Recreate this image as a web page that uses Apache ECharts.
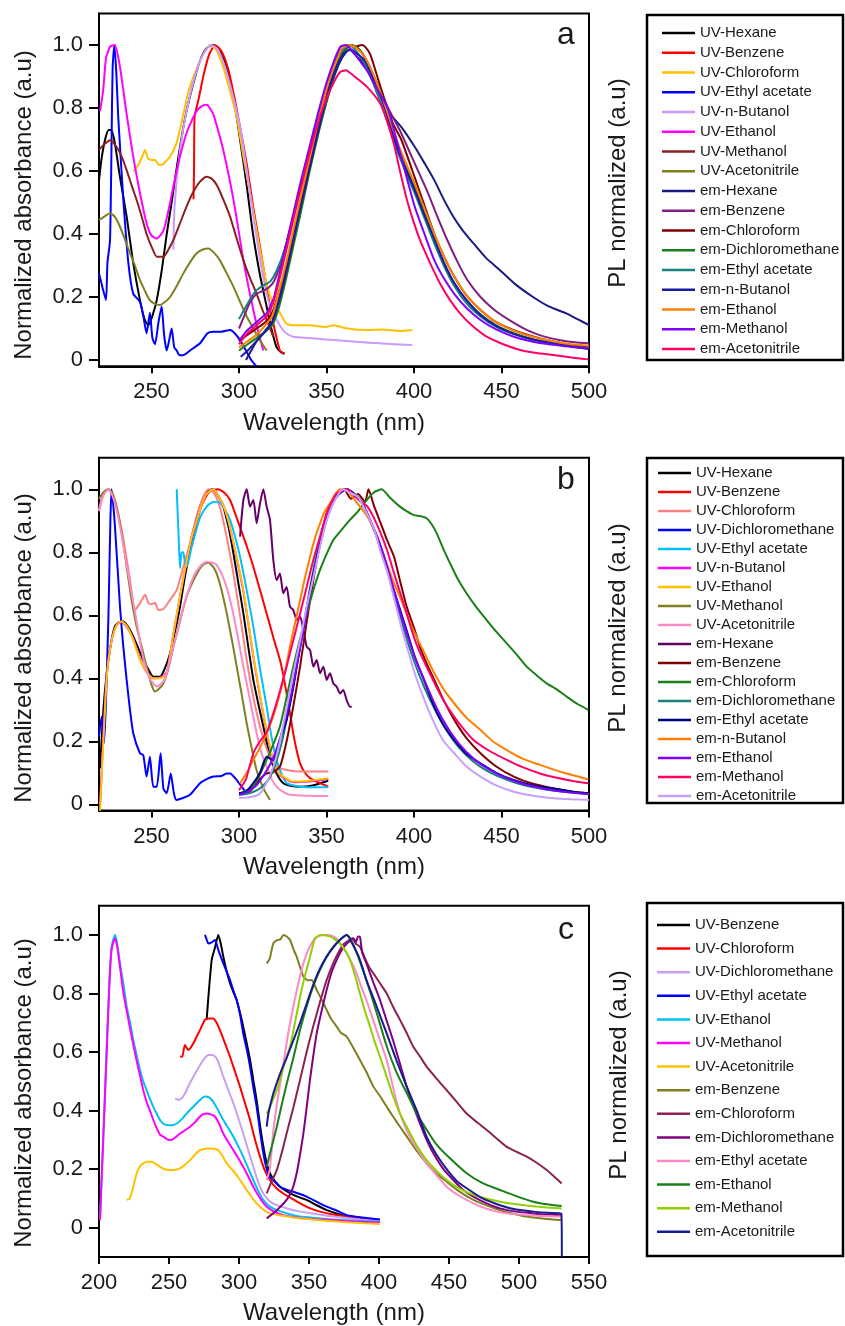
<!DOCTYPE html>
<html>
<head>
<meta charset="utf-8">
<script src="https://cdn.jsdelivr.net/npm/echarts@6/dist/echarts.min.js"></script>
<style>
  html, body { margin: 0; padding: 0; background: #fff; overflow: hidden; }
  .panel { position: absolute; left: 0; width: 845px; }
</style>
</head>
<body>
<div id="pa" class="panel" style="top:0;height:440px"></div>
<div id="pb" class="panel" style="top:440px;height:440px"></div>
<div id="pc" class="panel" style="top:880px;height:446px"></div>
<script>
// ---------- tick values ----------
const xTicksAB = [250, 300, 350, 400, 450, 500];
const xTicksC = [200, 250, 300, 350, 400, 450, 500, 550];
const yTicks = [0, 0.2, 0.4, 0.6, 0.8, 1.0];

// ---------- panel a : wavelength (nm), normalized intensity ----------
const namesA = ['UV-Hexane','UV-Benzene','UV-Chloroform','UV-Ethyl acetate','UV-n-Butanol','UV-Ethanol','UV-Methanol','UV-Acetonitrile',
  'em-Hexane','em-Benzene','em-Chloroform','em-Dichloromethane','em-Ethyl acetate','em-n-Butanol','em-Ethanol','em-Methanol','em-Acetonitrile'];

const a_uvHexane = [[220,0.57],[221.5,0.64],[223.5,0.7],[225.5,0.73],[227,0.73],[229,0.69],[232,0.58],[235.8,0.455],[239.5,0.31],[243.4,0.19],[246,0.13],[248.2,0.11],[250.5,0.14],[253,0.19],[256,0.29],[258.7,0.4],[261.5,0.5],[264.4,0.61],[267,0.7],[270,0.79],[274,0.88],[277.7,0.95],[281.5,0.99],[285.3,1.0],[289,0.98],[293,0.93],[297,0.83],[300.6,0.70],[304.5,0.55],[308,0.40],[312,0.27],[315.8,0.17],[318.5,0.1],[321.5,0.04],[324,0.025],[326,0.02]];
const a_uvBenzene = [[274,0.51],[274.3,0.6],[274.6,0.77],[277,0.83],[280,0.91],[283,0.97],[286.3,1.0],[290,0.98],[294,0.92],[297.5,0.83],[300.6,0.74],[304.5,0.62],[308,0.49],[312,0.36],[315.8,0.23],[319.5,0.12],[323.4,0.03],[326,0.02]];
const a_uvChloroform = [[239.6,0.598],[243,0.624],[245,0.65],[246.3,0.667],[248,0.64],[250,0.635],[252,0.635],[254,0.62],[256,0.62],[258,0.63],[260.6,0.645],[264.4,0.69],[268.2,0.78],[271,0.85],[274,0.9],[277,0.94],[279.6,0.97],[283.4,1.0],[287,0.985],[291,0.93],[295,0.85],[298.7,0.77],[303,0.63],[308.2,0.47],[312,0.35],[315.8,0.24],[319.5,0.18],[323.4,0.15],[327,0.116],[331,0.11],[340,0.11],[350,0.105],[354,0.11],[362,0.1],[373,0.095],[382,0.097],[392,0.092],[399,0.095]];
const a_uvEthylAcetate = [[220,0.275],[222,0.23],[224,0.19],[224.8,0.307],[226.3,0.38],[227.2,0.7],[227.8,0.93],[228.8,1.0],[230,0.9],[231,0.77],[233.9,0.51],[236.8,0.307],[239.6,0.21],[243.4,0.185],[245.3,0.14],[247.2,0.085],[249.1,0.15],[250.5,0.07],[252,0.05],[254,0.12],[255.8,0.17],[257.2,0.08],[258.7,0.03],[260,0.06],[261.5,0.1],[263,0.04],[264.4,0.03],[266,0.015],[268,0.015],[272,0.03],[277.7,0.053],[282,0.085],[285.3,0.09],[290,0.09],[294.9,0.095],[297.5,0.085],[300.6,0.063],[304,0.03],[307,0.0],[310,-0.02]];
const a_uvButanol = [[262.5,0.35],[263.2,0.49],[266.3,0.667],[270,0.79],[275.8,0.92],[280,0.975],[284,1.0],[288,0.985],[292,0.93],[296,0.85],[300.6,0.74],[304.5,0.6],[308.2,0.455],[312,0.32],[315.8,0.21],[319,0.15],[321.5,0.127],[324.5,0.1],[327,0.085],[331,0.074],[340,0.07],[350,0.065],[362,0.06],[375,0.055],[388,0.05],[399,0.048]];
const a_uvEthanol = [[220.6,0.79],[222.4,0.857],[224,0.958],[226.3,0.995],[229,1.0],[232,0.93],[235.8,0.78],[239.6,0.645],[243.4,0.53],[247.2,0.434],[250,0.395],[253,0.386],[256.8,0.41],[259.5,0.47],[262.5,0.55],[266,0.64],[270,0.72],[273,0.76],[275.8,0.79],[278.5,0.805],[281.5,0.81],[285.3,0.78],[288,0.73],[291,0.667],[294,0.59],[296.8,0.51],[299.5,0.42],[302.5,0.317],[305.5,0.23],[308.2,0.159],[311,0.09],[313.9,0.03]];
const a_uvMethanol = [[220,0.667],[223,0.685],[226.3,0.698],[230,0.677],[233,0.645],[235.8,0.603],[238.6,0.555],[241.5,0.508],[244.4,0.455],[247.2,0.40],[250,0.36],[253,0.328],[256.8,0.328],[259.6,0.35],[262.5,0.381],[266,0.43],[270,0.487],[274,0.535],[277.7,0.566],[281.5,0.582],[284.5,0.575],[287.2,0.556],[291,0.51],[294.9,0.455],[298.7,0.385],[302.5,0.317],[306.3,0.26],[310.1,0.21],[313,0.165],[315.8,0.127],[319.6,0.074]];
const a_uvAcetonitrile = [[220,0.444],[223,0.455],[226.3,0.466],[229,0.455],[232,0.423],[235,0.38],[237.7,0.339],[240.5,0.3],[243.4,0.254],[246.2,0.22],[249,0.19],[252,0.178],[254.9,0.175],[257.8,0.185],[260.6,0.2],[264.4,0.235],[268.2,0.275],[272,0.31],[275.8,0.339],[279,0.35],[282.5,0.354],[285.8,0.34],[289,0.317],[293,0.275],[296.8,0.233],[300.6,0.185],[304.4,0.138],[308.2,0.1],[312,0.063],[315.8,0.03]];
const a_emHexane = [[304,0.0],[307,0.03],[310,0.06],[313,0.08],[316,0.1],[319,0.12],[322,0.18],[326,0.27],[330,0.36],[335,0.48],[340,0.6],[345,0.72],[350,0.82],[355,0.91],[359,0.96],[363,0.986],[368,0.96],[373,0.93],[379,0.86],[385,0.79],[392.7,0.74],[400.4,0.677],[406,0.625],[411.6,0.571],[417,0.51],[422.5,0.455],[428,0.41],[434,0.37],[441,0.325],[449,0.286],[458,0.24],[468,0.2],[477,0.17],[487,0.148],[494,0.128],[500,0.111]];
const a_emBenzene = [[300,0.1],[303,0.14],[306,0.18],[310,0.21],[314,0.22],[317,0.23],[320,0.25],[324,0.31],[328,0.39],[332,0.48],[336,0.57],[340,0.66],[345,0.77],[350,0.87],[355,0.95],[359,0.99],[363,1.0],[368,0.99],[373,0.95],[378,0.89],[383,0.825],[388,0.77],[392.7,0.72],[400.4,0.624],[408,0.53],[413,0.46],[419,0.381],[425,0.31],[430.5,0.254],[438,0.2],[446,0.159],[455,0.125],[464.6,0.095],[474,0.075],[483.6,0.063],[492,0.056],[500,0.053]];
const a_emChloroform = [[300,0.06],[305,0.08],[310,0.1],[315,0.12],[319,0.15],[323,0.22],[327,0.3],[331,0.4],[335,0.5],[340,0.62],[345,0.74],[350,0.85],[355,0.93],[360,0.98],[364,1.0],[367,0.995],[370,1.0],[372,0.995],[375,0.97],[379,0.9],[383,0.83],[388,0.75],[392.7,0.70],[400.4,0.58],[406,0.49],[411.6,0.40],[417,0.33],[423,0.265],[430,0.205],[438,0.159],[447,0.12],[457,0.095],[468,0.075],[480,0.058],[490,0.048],[500,0.042]];
const a_emDichloromethane = [[300,0.03],[305,0.05],[310,0.07],[315,0.09],[319,0.11],[323,0.17],[327,0.26],[331,0.36],[335,0.46],[340,0.59],[345,0.71],[350,0.82],[355,0.92],[360,0.98],[364,1.0],[368,0.99],[372,0.96],[378,0.88],[384,0.79],[390,0.69],[395,0.62],[400.4,0.55],[406,0.47],[411.6,0.38],[417,0.31],[423,0.243],[430,0.19],[438,0.145],[447,0.11],[457,0.085],[468,0.066],[480,0.053],[490,0.044],[500,0.037]];
const a_emEthylAcetate = [[300,0.13],[303,0.16],[306,0.19],[309,0.215],[312,0.23],[315,0.24],[318,0.25],[322,0.29],[326,0.35],[330,0.43],[335,0.54],[340,0.65],[345,0.76],[350,0.86],[355,0.94],[360,0.99],[363,1.0],[367,0.98],[372,0.94],[378,0.86],[384,0.77],[390,0.67],[395,0.6],[400.4,0.53],[406,0.45],[411.6,0.37],[417,0.3],[423,0.235],[430,0.18],[438,0.138],[447,0.105],[457,0.082],[468,0.064],[480,0.052],[490,0.043],[500,0.036]];
const a_emButanol = [[301,0.01],[305,0.03],[310,0.06],[315,0.09],[319,0.12],[323,0.19],[327,0.28],[331,0.38],[335,0.48],[340,0.6],[345,0.72],[350,0.83],[355,0.92],[360,0.975],[364,0.985],[368,0.97],[372,0.95],[378,0.88],[384,0.79],[390,0.68],[395,0.61],[400.4,0.54],[406,0.46],[411.6,0.385],[417,0.31],[423,0.245],[430,0.19],[438,0.143],[447,0.108],[457,0.083],[468,0.065],[480,0.052],[490,0.043],[500,0.035]];
const a_emEthanol = [[300,0.04],[305,0.06],[310,0.08],[315,0.11],[319,0.14],[323,0.22],[327,0.31],[331,0.41],[335,0.51],[340,0.63],[345,0.75],[350,0.86],[355,0.94],[359,0.99],[363,1.0],[367,0.99],[372,0.96],[378,0.89],[384,0.8],[390,0.7],[395,0.63],[400.4,0.56],[406,0.48],[411.6,0.4],[417,0.33],[423,0.265],[430,0.205],[438,0.158],[447,0.12],[457,0.093],[468,0.073],[480,0.059],[490,0.05],[500,0.045]];
const a_emMethanol = [[300,0.06],[304,0.09],[308,0.11],[312,0.13],[316,0.15],[320,0.2],[325,0.32],[330,0.44],[335,0.56],[340,0.67],[345,0.78],[350,0.88],[355,0.96],[358,0.995],[361,1.0],[365,0.98],[369,0.95],[373,0.92],[379,0.86],[385,0.8],[389,0.72],[392.7,0.645],[396.5,0.565],[400.4,0.487],[406,0.4],[411.6,0.317],[417,0.26],[423,0.21],[430,0.165],[438,0.127],[447,0.097],[457,0.074],[468,0.058],[480,0.048],[490,0.041],[500,0.037]];
const a_emAcetonitrile = [[300,0.05],[304,0.08],[308,0.1],[312,0.12],[316,0.14],[320,0.19],[325,0.3],[330,0.42],[335,0.54],[340,0.65],[345,0.75],[350,0.83],[355,0.89],[358,0.915],[361,0.92],[366,0.9],[373,0.868],[380.6,0.815],[384.5,0.76],[388.4,0.688],[392,0.6],[396,0.508],[399.7,0.44],[403.4,0.381],[409,0.31],[414.9,0.243],[420.6,0.19],[426.3,0.148],[433,0.11],[441.5,0.074],[451,0.05],[460.6,0.032],[470,0.022],[479.6,0.016],[490,0.008],[499.6,0.002]];

const curvesA = [a_uvHexane, a_uvBenzene, a_uvChloroform, a_uvEthylAcetate, a_uvButanol, a_uvEthanol, a_uvMethanol, a_uvAcetonitrile,
  a_emHexane, a_emBenzene, a_emChloroform, a_emDichloromethane, a_emEthylAcetate, a_emButanol, a_emEthanol, a_emMethanol, a_emAcetonitrile];
const colorsA = ['#000000','#ff0000','#ffc000','#0000ff','#cc99ff','#ff00ff','#8b2020','#808020',
  '#1a1a80','#7f1f7f','#800000','#1a801a','#1a7f7f','#1a1aa6','#ff8000','#8000ff','#ff0066'];

// ---------- panel b ----------
const namesB = ['UV-Hexane','UV-Benzene','UV-Chloroform','UV-Dichloromethane','UV-Ethyl acetate','UV-n-Butanol','UV-Ethanol','UV-Methanol','UV-Acetonitrile',
  'em-Hexane','em-Benzene','em-Chloroform','em-Dichloromethane','em-Ethyl acetate','em-n-Butanol','em-Ethanol','em-Methanol','em-Acetonitrile'];

const b_uvHexane = [[220.6,0.114],[222.5,0.3],[224.4,0.416],[226.5,0.5],[229,0.564],[231.5,0.578],[234,0.58],[237,0.56],[239.6,0.532],[242.5,0.495],[245.3,0.458],[248,0.43],[251,0.405],[254.9,0.405],[257.5,0.43],[260.6,0.479],[263.5,0.55],[266.3,0.627],[269,0.72],[272,0.807],[275,0.89],[277.7,0.945],[280.5,0.98],[283.4,0.998],[285.3,1.0],[288,0.98],[291,0.945],[294,0.88],[296.8,0.797],[299.7,0.7],[302.5,0.606],[305.3,0.5],[308.2,0.395],[311,0.32],[313.9,0.247],[317.7,0.151],[321.5,0.098],[325.3,0.067],[330,0.058],[334.9,0.056],[342,0.06],[351,0.075]];
const b_uvBenzene = [[273,0.818],[275.5,0.88],[277.7,0.934],[280.5,0.97],[283.4,0.993],[288,1.0],[291.5,0.99],[294.9,0.966],[298,0.92],[300.6,0.88],[304.4,0.82],[308.2,0.754],[312,0.68],[315.8,0.606],[319.6,0.53],[323.4,0.458],[325.3,0.41],[327.2,0.352],[329.1,0.29],[331,0.225],[333,0.17],[334.9,0.13],[337.7,0.1],[340.6,0.083],[346.3,0.067],[351,0.056]];
const b_uvChloroform = [[220,0.934],[222.4,0.987],[225.3,1.0],[229,0.966],[231.5,0.91],[234,0.839],[237.7,0.712],[240.6,0.617],[243.4,0.638],[246.3,0.665],[248.2,0.64],[250,0.635],[252,0.64],[253.9,0.617],[256.8,0.62],[260.6,0.649],[264.4,0.68],[268.2,0.754],[272,0.829],[275.8,0.913],[279.6,0.977],[282.5,1.0],[285.5,0.99],[289,0.945],[292.9,0.85],[296.8,0.733],[300.6,0.6],[304.4,0.458],[308.2,0.34],[312,0.247],[315,0.19],[317.7,0.151],[321.5,0.12],[327.2,0.109],[334.9,0.104],[343,0.104],[351,0.104]];
const b_uvDichloromethane = [[220,0.215],[221.5,0.278],[222.9,0.194],[224,0.331],[225.4,0.6],[226.5,0.9],[227.2,1.0],[229,0.892],[232,0.627],[233.9,0.5],[235.8,0.395],[237.7,0.3],[239.6,0.225],[243.4,0.162],[245.3,0.156],[247.2,0.088],[249.1,0.151],[251,0.056],[253,0.056],[255.2,0.162],[256.8,0.05],[258.7,0.035],[261,0.098],[262.8,0.035],[264.2,0.014],[268,0.02],[272,0.03],[277.7,0.067],[281.5,0.08],[285.3,0.088],[290,0.09],[292.9,0.098],[294.9,0.098],[298.7,0.077],[301.5,0.056],[304.4,0.035]];
const b_uvEthylAcetate = [[264.4,1.0],[265.5,0.85],[266.3,0.75],[267.2,0.8],[268.2,0.8],[269,0.77],[270,0.754],[271.5,0.78],[273,0.82],[275,0.86],[277.7,0.91],[281.5,0.945],[285.3,0.96],[289.1,0.958],[292,0.935],[294.9,0.903],[297.7,0.85],[300.6,0.786],[304.4,0.68],[308.2,0.564],[312,0.43],[315.8,0.31],[318.7,0.21],[321.5,0.141],[324.4,0.095],[327.2,0.067],[334.9,0.056],[343,0.054],[351,0.054]];
const b_uvButanol = [[220.6,0.0],[222.5,0.22],[224.4,0.41],[226.5,0.5],[229,0.556],[231,0.575],[233,0.578],[236,0.562],[239.6,0.525],[243.4,0.462],[247.2,0.42],[251,0.4],[254.9,0.402],[258.7,0.42],[262.5,0.54],[266.3,0.66],[270,0.77],[273,0.85],[275.8,0.905],[278.6,0.95],[281.5,0.985],[285.3,1.0],[288,0.98],[291,0.95],[293.9,0.9],[296.8,0.83],[299.7,0.755],[302.5,0.675],[305.3,0.575],[308,0.475],[311,0.375],[313.9,0.285],[316.7,0.205],[319.6,0.14],[322.5,0.1],[325.3,0.085],[331,0.07],[340,0.072],[351,0.08]];
const b_uvEthanol = [[220.6,-0.02],[222.5,0.2],[224.4,0.4],[226.5,0.5],[229,0.555],[231,0.575],[233,0.58],[236,0.565],[239.6,0.522],[243.4,0.46],[247.2,0.42],[251,0.4],[254.9,0.4],[258.7,0.416],[262.5,0.54],[266.3,0.66],[270,0.77],[273,0.85],[275.8,0.9],[278.6,0.95],[281.5,0.985],[285.3,1.0],[288,0.98],[291,0.95],[293.9,0.9],[296.8,0.83],[299.7,0.76],[302.5,0.68],[305.3,0.58],[308,0.479],[311,0.38],[313.9,0.289],[316.7,0.21],[319.6,0.141],[322.5,0.1],[325.3,0.088],[331,0.072],[340,0.075],[351,0.083]];
const b_uvMethanol = [[220,0.97],[222.5,0.99],[225.3,1.0],[227.5,0.99],[230,0.945],[233,0.86],[235.8,0.754],[238.6,0.65],[241.5,0.564],[244.4,0.5],[247.2,0.437],[250,0.38],[252,0.358],[254,0.365],[256.8,0.384],[259.6,0.43],[262.5,0.5],[266,0.575],[270,0.659],[273.9,0.71],[277.7,0.749],[280,0.762],[282.5,0.767],[285,0.755],[287.2,0.733],[290,0.68],[293,0.606],[296,0.52],[298.7,0.437],[301.5,0.35],[304.4,0.257],[307.2,0.18],[310,0.109],[314,0.05],[317.7,0.014]];
const b_uvAcetonitrile = [[220,0.93],[222.5,0.98],[225.3,1.0],[228,0.975],[231,0.91],[234,0.82],[237.7,0.7],[241.5,0.58],[245,0.47],[249,0.4],[253,0.374],[256.8,0.39],[258.7,0.416],[262.5,0.5],[266.3,0.585],[270,0.66],[274,0.723],[277.7,0.755],[281.5,0.77],[284.5,0.768],[287.2,0.76],[291,0.72],[294.9,0.649],[298.7,0.55],[302.5,0.437],[306.3,0.33],[310.1,0.225],[313,0.16],[315.8,0.12],[318.7,0.08],[321.5,0.056],[325,0.04],[329,0.03],[340,0.027],[351,0.026]];
const b_emHexane = [[300.6,0.85],[302.5,0.966],[304.4,1.0],[306.3,0.945],[308.2,0.966],[310.1,0.892],[312,0.955],[313.9,1.0],[315.8,0.945],[317.7,0.903],[319.6,0.776],[321.5,0.712],[323.4,0.733],[325.3,0.67],[327.2,0.69],[329.1,0.628],[331,0.617],[333,0.585],[334.9,0.596],[336.8,0.553],[338.7,0.5],[340.6,0.49],[342.5,0.437],[344.4,0.458],[346.3,0.416],[348.2,0.437],[350.1,0.395],[352,0.416],[353.9,0.384],[355.8,0.373],[357.7,0.352],[359.6,0.363],[361.5,0.331],[363.4,0.31],[364.4,0.31]];
const b_emBenzene = [[300,0.035],[306,0.04],[312,0.08],[315.8,0.098],[319,0.1],[323.4,0.12],[327.2,0.2],[331,0.31],[334.9,0.437],[338.7,0.58],[342.5,0.712],[346.3,0.83],[350.1,0.924],[355.8,0.98],[360,1.0],[364,0.97],[368,0.985],[372,0.96],[374,1.0],[377,0.95],[381,0.892],[384.5,0.84],[388.6,0.786],[392,0.71],[395.8,0.628],[400,0.56],[403.4,0.5],[407,0.45],[411.6,0.395],[417,0.33],[423,0.268],[430,0.21],[438,0.162],[447,0.12],[457,0.088],[468,0.065],[480,0.05],[490,0.04],[500,0.035]];
const b_emChloroform = [[300.6,0.035],[304.4,0.045],[308.2,0.056],[312,0.095],[315.8,0.141],[319.6,0.19],[323.4,0.247],[327.2,0.34],[331,0.437],[334.9,0.525],[338.7,0.606],[342.5,0.68],[346.3,0.744],[350.1,0.795],[353.9,0.839],[358.7,0.872],[363.4,0.903],[368,0.93],[373,0.966],[377,0.99],[381.5,1.0],[386,0.975],[392,0.945],[396,0.93],[400,0.918],[403.5,0.915],[407.2,0.908],[410,0.89],[413,0.86],[416.8,0.81],[420.6,0.765],[425,0.715],[430,0.67],[435.7,0.625],[441.5,0.585],[447,0.548],[453,0.511],[458.7,0.475],[464.4,0.437],[470,0.41],[475.8,0.384],[481.5,0.365],[487.2,0.342],[493,0.32],[499.6,0.30]];
const b_emDichloromethane = [[300,0.03],[306,0.035],[312,0.05],[317,0.08],[321,0.13],[325,0.21],[329,0.32],[333,0.44],[337,0.57],[341,0.7],[345,0.81],[349,0.9],[353,0.96],[357,0.99],[361,1.0],[365,0.99],[370,0.96],[375,0.9],[380,0.83],[385,0.74],[390,0.64],[395,0.54],[400,0.455],[406,0.37],[412,0.3],[418,0.24],[425,0.185],[433,0.14],[442,0.105],[452,0.08],[463,0.06],[475,0.047],[487,0.039],[500,0.033]];
const b_emEthylAcetate = [[300,0.035],[304,0.04],[308.2,0.067],[312,0.1],[315.8,0.151],[319.6,0.14],[323,0.2],[327.2,0.268],[331,0.37],[333,0.437],[336.8,0.56],[340.6,0.68],[344.4,0.78],[348.2,0.871],[352,0.935],[355.8,0.977],[361.5,1.0],[366,0.985],[370,0.96],[375,0.9],[380,0.83],[385,0.74],[388.5,0.68],[392.7,0.606],[396.5,0.54],[400.4,0.469],[406,0.39],[411.6,0.31],[417,0.25],[423,0.204],[430,0.16],[438,0.13],[447,0.1],[457,0.077],[468,0.06],[480,0.05],[490,0.041],[499.6,0.035]];
const b_emButanol = [[300.6,0.067],[304.4,0.1],[308.2,0.141],[312,0.18],[315.8,0.225],[319.6,0.28],[323.4,0.352],[326.3,0.42],[329.1,0.5],[332,0.575],[334.9,0.649],[337.7,0.72],[340.6,0.786],[343.4,0.845],[346.3,0.892],[349.1,0.93],[352,0.956],[355,0.985],[357.7,1.0],[362,0.995],[367,0.96],[373.4,0.913],[378,0.86],[383,0.786],[388,0.71],[392.7,0.649],[396.5,0.595],[400.4,0.543],[406,0.48],[411.6,0.416],[417,0.365],[423,0.32],[430,0.275],[438,0.236],[445,0.2],[453,0.172],[462,0.145],[472,0.125],[480,0.11],[487.2,0.098],[494,0.088],[499.6,0.079]];
const b_emEthanol = [[300,0.03],[305,0.04],[310,0.06],[315,0.1],[319,0.14],[323,0.2],[327,0.28],[331,0.38],[335,0.5],[339,0.62],[343,0.74],[347,0.84],[351,0.92],[355,0.97],[359,0.995],[362,1.0],[366,0.98],[371,0.95],[376,0.89],[381,0.82],[386,0.73],[391,0.63],[396,0.54],[401,0.46],[407,0.38],[413,0.305],[419,0.245],[426,0.19],[434,0.145],[443,0.11],[453,0.083],[464,0.062],[476,0.048],[488,0.038],[500,0.032]];
const b_emMethanol = [[300,0.045],[304,0.08],[308.2,0.162],[312,0.2],[316,0.23],[319.6,0.289],[323.4,0.36],[327.2,0.437],[331,0.52],[334.9,0.606],[338.7,0.69],[342.5,0.776],[346.3,0.85],[350.1,0.924],[353,0.96],[355.8,0.987],[361.5,1.0],[366,0.98],[370,0.96],[373.4,0.945],[377,0.91],[381,0.86],[385,0.8],[388.6,0.733],[392.2,0.67],[395.8,0.606],[400,0.53],[403.5,0.48],[407.2,0.437],[413,0.37],[419,0.31],[426,0.255],[434,0.204],[443,0.17],[453,0.141],[462,0.118],[472,0.098],[481,0.085],[490,0.075],[499.6,0.067]];
const b_emAcetonitrile = [[300,0.02],[305,0.022],[311,0.03],[315,0.06],[319.6,0.12],[323,0.19],[327,0.3],[331,0.416],[334.9,0.52],[338.7,0.628],[342.5,0.72],[346.3,0.818],[350.1,0.9],[353.9,0.956],[359.6,1.0],[363,0.99],[367.8,0.977],[372.5,0.93],[377.3,0.871],[381,0.8],[385,0.733],[388.8,0.65],[392.7,0.564],[396.5,0.49],[400.4,0.416],[406,0.33],[411.6,0.257],[417,0.2],[423,0.162],[430,0.12],[438,0.088],[447,0.06],[457,0.04],[468,0.027],[480,0.019],[490,0.016],[500,0.014]];

const curvesB = [b_uvHexane, b_uvBenzene, b_uvChloroform, b_uvDichloromethane, b_uvEthylAcetate, b_uvButanol, b_uvEthanol, b_uvMethanol, b_uvAcetonitrile,
  b_emHexane, b_emBenzene, b_emChloroform, b_emDichloromethane, b_emEthylAcetate, b_emButanol, b_emEthanol, b_emMethanol, b_emAcetonitrile];
const colorsB = ['#000000','#ff0000','#ff8080','#0000ff','#00bfff','#ff00ff','#ffc000','#808020','#ff88c8',
  '#660066','#800000','#1a801a','#1a7f7f','#000080','#ff8000','#8000ff','#ff0066','#c8a0ff'];

// ---------- panel c ----------
const namesC = ['UV-Benzene','UV-Chloroform','UV-Dichloromethane','UV-Ethyl acetate','UV-Ethanol','UV-Methanol','UV-Acetonitrile',
  'em-Benzene','em-Chloroform','em-Dichloromethane','em-Ethyl acetate','em-Ethanol','em-Methanol','em-Acetonitrile'];

const c_uvBenzene = [[276.9,0.71],[278,0.78],[280.5,0.915],[282.9,0.958],[285.2,1.0],[287,0.97],[288.8,0.926],[291.2,0.875],[293.6,0.835],[296,0.805],[298.3,0.778],[300.7,0.735],[303,0.687],[305.5,0.63],[307.9,0.573],[310.2,0.505],[312.6,0.436],[315,0.35],[317.4,0.277],[319.8,0.22],[322,0.186],[325.5,0.16],[329.3,0.14],[334,0.125],[338.8,0.112],[343.6,0.103],[348.3,0.095],[355,0.078],[362.6,0.06],[370,0.048],[377,0.038],[388,0.03],[400.7,0.024]];
const c_uvChloroform = [[257.9,0.584],[259.5,0.585],[261.4,0.624],[263.8,0.607],[265.5,0.615],[267.4,0.63],[270,0.655],[272.1,0.675],[275.7,0.71],[278.5,0.715],[281.7,0.715],[284,0.7],[286.4,0.675],[290,0.63],[293.6,0.584],[297,0.535],[300.7,0.482],[304.3,0.425],[307.9,0.368],[311.5,0.3],[315,0.243],[318.5,0.195],[322,0.163],[326.8,0.135],[331.7,0.117],[337.5,0.1],[343.6,0.083],[350,0.068],[357.9,0.055],[367,0.045],[377,0.038],[388,0.031],[400.7,0.026]];
const c_uvDichloromethane = [[254.3,0.442],[257,0.437],[259,0.442],[261.6,0.46],[264.5,0.49],[267.4,0.516],[270.9,0.545],[274.5,0.573],[278.1,0.59],[281,0.59],[284,0.579],[286.4,0.55],[288.8,0.516],[292.4,0.47],[296,0.425],[299.5,0.375],[303,0.322],[306.6,0.265],[310.2,0.208],[313.8,0.155],[317.4,0.117],[322,0.09],[327,0.077],[335,0.065],[343.6,0.055],[355,0.047],[367.4,0.038],[383,0.03],[400.7,0.024]];
const c_uvEthylAcetate = [[275.7,1.0],[276.9,0.985],[278.1,0.971],[280.5,0.975],[282.9,0.983],[285.2,0.949],[288.8,0.903],[293.6,0.846],[296,0.81],[298.3,0.778],[300.7,0.73],[303,0.664],[305.5,0.61],[307.9,0.55],[310.2,0.48],[312.6,0.413],[315,0.33],[317.4,0.254],[319.8,0.2],[322,0.174],[326,0.155],[329.3,0.14],[334,0.13],[338.8,0.123],[343.6,0.115],[348.3,0.106],[355,0.09],[362.6,0.072],[370,0.058],[377,0.043],[388,0.035],[400.7,0.028]];
const c_uvEthanol = [[200.7,0.026],[203,0.3],[205.5,0.618],[207.5,0.85],[209,0.96],[211.4,1.0],[213,0.97],[215,0.903],[217.5,0.83],[219.8,0.755],[222.2,0.7],[224.5,0.641],[226.9,0.59],[229.3,0.539],[231.6,0.5],[234,0.47],[236.4,0.44],[238.8,0.413],[241.2,0.39],[243.6,0.368],[246,0.355],[248.3,0.351],[252,0.35],[255.5,0.356],[259,0.37],[262.6,0.39],[266.2,0.408],[269.8,0.425],[272.8,0.44],[275.7,0.448],[278.6,0.445],[281.7,0.43],[285.2,0.4],[288.8,0.368],[292.4,0.34],[296,0.311],[299.5,0.278],[303,0.243],[306.6,0.203],[310.2,0.163],[313.8,0.125],[317.4,0.095],[322,0.072],[327,0.06],[335,0.048],[343.6,0.038],[355,0.033],[367.4,0.028],[383,0.024],[400.7,0.02]];
const c_uvMethanol = [[200.7,0.026],[203,0.3],[205.5,0.6],[207.5,0.84],[209,0.95],[211.4,0.989],[213,0.96],[215,0.89],[217.5,0.8],[219.8,0.74],[222.2,0.68],[224.5,0.625],[226.9,0.57],[229.3,0.52],[231.6,0.47],[234,0.43],[236.4,0.4],[238.8,0.368],[241.2,0.34],[243.6,0.318],[246,0.311],[248.5,0.302],[251.9,0.3],[254.9,0.31],[257.9,0.322],[261.5,0.333],[265,0.345],[268.5,0.36],[272,0.379],[274.5,0.388],[276.9,0.39],[279.9,0.387],[282.9,0.379],[285.8,0.355],[288.8,0.322],[292.4,0.292],[296,0.265],[299.5,0.237],[303,0.208],[306.6,0.175],[310.2,0.14],[313.8,0.11],[317.4,0.085],[319.8,0.072],[325,0.055],[331.7,0.043],[343.6,0.033],[355,0.029],[367.4,0.026],[383,0.021],[400.7,0.018]];
const c_uvAcetonitrile = [[219.8,0.095],[222,0.1],[224.5,0.14],[226.9,0.186],[229.3,0.21],[231.7,0.22],[234.5,0.225],[237.6,0.225],[240.5,0.218],[243.6,0.208],[247,0.2],[250.7,0.197],[254.3,0.198],[257.9,0.203],[261.5,0.215],[265,0.231],[268.6,0.25],[272.1,0.265],[275.7,0.27],[279.3,0.271],[282.2,0.27],[285.2,0.265],[288.2,0.245],[291.2,0.22],[294.8,0.2],[298.3,0.18],[301.9,0.155],[305.5,0.129],[309,0.105],[312.6,0.083],[317,0.063],[322,0.049],[330,0.042],[343.6,0.032],[360,0.025],[380,0.018],[400.7,0.013]];
const c_emBenzene = [[319.8,0.903],[322,0.92],[324.5,0.971],[327.5,0.983],[329.5,0.985],[331.7,1.0],[334,0.995],[336.5,0.983],[339,0.95],[341.2,0.926],[343.6,0.89],[346,0.858],[349,0.845],[351.9,0.846],[355.5,0.812],[359,0.78],[362.6,0.744],[366,0.712],[369.8,0.687],[373,0.665],[376.9,0.653],[381,0.62],[386.4,0.573],[391.2,0.53],[396,0.482],[400.7,0.45],[405.5,0.413],[410,0.38],[415,0.345],[419.8,0.312],[427,0.262],[434,0.22],[441,0.185],[448.3,0.157],[457,0.125],[467.4,0.095],[476,0.078],[486.4,0.06],[496,0.048],[505.5,0.038],[518,0.031],[530.5,0.026]];
const c_emChloroform = [[319.8,0.117],[323,0.155],[327,0.197],[330.5,0.255],[334,0.322],[338.8,0.41],[343.6,0.505],[348.3,0.6],[353,0.687],[357.8,0.77],[362.6,0.846],[367.4,0.905],[372,0.949],[375,0.97],[378,0.98],[381,0.989],[383.5,0.97],[386.4,0.96],[390,0.92],[393,0.89],[396,0.869],[400.7,0.835],[405.5,0.8],[410,0.755],[415,0.71],[419.8,0.665],[424.5,0.618],[429.3,0.585],[434,0.55],[441,0.51],[448.3,0.47],[455.5,0.43],[462.6,0.39],[470,0.36],[477,0.334],[484,0.305],[491,0.277],[498,0.26],[505.5,0.243],[512.6,0.222],[519.8,0.197],[525,0.175],[530.5,0.151]];
const c_emDichloromethane = [[319.8,0.032],[327,0.06],[334,0.095],[338,0.13],[341.2,0.186],[343.6,0.25],[346,0.322],[348.3,0.41],[350.7,0.505],[353,0.585],[355.5,0.664],[359,0.74],[362.6,0.812],[366,0.87],[369.8,0.915],[373.5,0.95],[377,0.971],[379.5,0.98],[381.7,0.989],[383.5,0.975],[385,0.995],[386.4,0.994],[388,0.94],[391,0.903],[395.8,0.84],[400.7,0.778],[405.3,0.71],[410,0.641],[415,0.56],[419.8,0.482],[424.5,0.415],[429.3,0.356],[434,0.3],[438.8,0.254],[446,0.2],[453,0.163],[460,0.13],[467.4,0.106],[477,0.083],[486.4,0.066],[498,0.055],[510,0.049],[520,0.045],[530.5,0.043]];
const c_emEthylAcetate = [[319.8,0.163],[322,0.2],[324.5,0.33],[327,0.42],[329.3,0.49],[331.7,0.56],[335,0.66],[338.8,0.755],[342.4,0.835],[346,0.903],[349.5,0.95],[353,0.98],[356.5,0.995],[360.2,1.0],[364,1.0],[367.4,0.995],[370.5,0.983],[374,0.96],[379,0.92],[384,0.87],[387.5,0.82],[391,0.778],[395.8,0.71],[400.7,0.64],[405.5,0.573],[410,0.48],[415,0.39],[420,0.33],[424.5,0.29],[429.3,0.254],[434,0.22],[441,0.18],[448.3,0.14],[457,0.11],[467.4,0.083],[478,0.063],[491,0.049],[510,0.042],[530.5,0.038]];
const c_emEthanol = [[319.8,0.208],[323,0.27],[327,0.345],[330.5,0.42],[334,0.49],[338.8,0.58],[343.6,0.675],[348.3,0.755],[353,0.824],[357.8,0.88],[362.6,0.926],[367.4,0.96],[372,0.983],[377,1.0],[379.3,0.99],[384,0.94],[391,0.846],[398,0.74],[405.5,0.62],[412.6,0.53],[419.8,0.46],[427,0.39],[434,0.335],[441,0.285],[450.7,0.237],[462.6,0.186],[474,0.152],[486.4,0.129],[498,0.108],[510.2,0.089],[520,0.08],[530.5,0.074]];
const c_emMethanol = [[319.8,0.39],[322,0.41],[324.5,0.44],[327,0.47],[329.3,0.505],[332.5,0.56],[336.4,0.618],[340,0.7],[343.6,0.789],[346.5,0.85],[349.5,0.903],[352,0.95],[354.3,0.989],[357,0.998],[359,1.0],[362,0.998],[365,0.995],[368.5,0.985],[372,0.971],[375.5,0.95],[379.3,0.915],[383,0.86],[386.4,0.8],[390,0.74],[393.6,0.687],[397,0.635],[400.7,0.584],[405.5,0.516],[410,0.45],[415,0.39],[419.8,0.345],[427,0.28],[434,0.231],[441,0.195],[448.3,0.163],[457,0.135],[467.4,0.112],[477,0.099],[486.4,0.089],[498,0.08],[510,0.073],[520,0.069],[530.5,0.066]];
const c_emAcetonitrile = [[319.8,0.345],[321,0.39],[324,0.45],[326.9,0.493],[330.5,0.54],[334,0.58],[338.8,0.64],[343.6,0.7],[348.3,0.765],[353,0.83],[357.8,0.885],[362.6,0.926],[367.4,0.958],[372,0.983],[377,1.0],[381,0.97],[386,0.92],[391,0.846],[398,0.76],[405.5,0.664],[412.6,0.57],[419.8,0.482],[427,0.4],[434,0.311],[441,0.25],[448.3,0.2],[455.5,0.16],[462.6,0.135],[474,0.1],[486.4,0.077],[498,0.062],[510.2,0.055],[520,0.051],[530.2,0.049],[530.6,-0.1]];

const curvesC = [c_uvBenzene, c_uvChloroform, c_uvDichloromethane, c_uvEthylAcetate, c_uvEthanol, c_uvMethanol, c_uvAcetonitrile,
  c_emBenzene, c_emChloroform, c_emDichloromethane, c_emEthylAcetate, c_emEthanol, c_emMethanol, c_emAcetonitrile];
const colorsC = ['#000000','#ff0000','#c8a0f0','#0000ff','#00c0f0','#ff00ff','#ffc000',
  '#7f7f20','#8b2252','#800080','#ff88c8','#1a801a','#90d000','#1a1a90'];

// ---------- drawing ----------
const FONT = '"Liberation Sans", Arial, Helvetica, sans-serif';
const INK = '#1a1a1a';

function textEl(text, x, y, size, rot) {
  return {
    type: 'text', x: x, y: y, rotation: rot || 0, silent: true,
    style: { text: text, font: size + 'px ' + FONT, fill: INK,
      align: 'center', verticalAlign: 'middle', textAlign: 'center', textVerticalAlign: 'middle' }
  };
}

function buildPanel(id, p) {
  const chart = echarts.init(document.getElementById(id), null, { renderer: 'canvas' });
  const series = p.names.map(function (name, i) {
    return {
      name: name, type: 'line', data: p.curves[i],
      showSymbol: false, symbol: 'none', smooth: 0.2, clip: true, silent: true,
      lineStyle: { color: p.colors[i], width: 2 },
      itemStyle: { color: p.colors[i] }
    };
  });
  chart.setOption({
    animation: false,
    grid: { left: p.grid[0], top: p.grid[1], width: p.grid[2], height: p.grid[3],
      show: true, borderColor: '#000', borderWidth: 2, backgroundColor: 'transparent' },
    xAxis: {
      type: 'value', min: p.xMin, max: p.xMax,
      axisLine: { show: true, onZero: false, lineStyle: { color: '#000', width: 2 } },
      axisTick: { show: true, inside: false, length: 7, lineStyle: { color: '#000', width: 2 }, customValues: p.xTicks },
      axisLabel: { customValues: p.xTicks, fontSize: 22, color: INK, fontFamily: FONT, margin: 15 },
      splitLine: { show: false }
    },
    yAxis: {
      type: 'value', min: p.yMin, max: p.yMax,
      axisLine: { show: true, onZero: false, lineStyle: { color: '#000', width: 2 } },
      axisTick: { show: true, inside: false, length: 10, lineStyle: { color: '#000', width: 2 }, customValues: yTicks },
      axisLabel: { customValues: yTicks, fontSize: 22, color: INK, fontFamily: FONT, margin: 16,
        formatter: function (v) { return v === 0 ? '0' : v.toFixed(1); } },
      splitLine: { show: false }
    },
    legend: {
      data: p.names, orient: 'vertical', left: p.legend[0], top: p.legend[1], itemGap: p.legend[2],
      icon: 'rect', itemWidth: 33, itemHeight: 2.5, padding: 0, selectedMode: false,
      textStyle: { fontSize: 15, lineHeight: 16, color: INK, fontFamily: FONT }
    },
    graphic: [
      { type: 'rect', silent: true, shape: { x: p.box[0], y: p.box[1], width: p.box[2], height: p.box[3] },
        style: { fill: 'none', stroke: '#000', lineWidth: 2.5 } },
      textEl('Normalized absorbance (a.u)', p.yName[0], p.yName[1], 24, Math.PI / 2),
      textEl('Wavelength (nm)', p.xName[0], p.xName[1], 24, 0),
      textEl('PL normalized (a.u)', p.plName[0], p.plName[1], 24, Math.PI / 2),
      textEl(p.letter, p.letterPos[0], p.letterPos[1], 32, 0)
    ],
    series: series
  });
}

buildPanel('pa', {
  names: namesA, curves: curvesA, colors: colorsA,
  xMin: 220, xMax: 500, xTicks: xTicksAB, yMin: -0.02, yMax: 1.1,
  grid: [99, 13.5, 490, 352.8],
  legend: [662, 25, 3.75], box: [647, 15, 196, 345],
  yName: [24, 205], xName: [334, 423], plName: [618, 183],
  letter: 'a', letterPos: [566, 35]
});
buildPanel('pb', {
  names: namesB, curves: curvesB, colors: colorsB,
  xMin: 220, xMax: 500, xTicks: xTicksAB, yMin: -0.02, yMax: 1.1,
  grid: [99, 17.8, 490, 352.8],
  legend: [658, 25, 3], box: [647, 18, 196, 345],
  yName: [24, 208], xName: [334, 427], plName: [618, 188],
  letter: 'b', letterPos: [566, 40]
});
buildPanel('pc', {
  names: namesC, curves: curvesC, colors: colorsC,
  xMin: 200, xMax: 550, xTicks: xTicksC, yMin: -0.1, yMax: 1.1,
  grid: [99, 25.7, 490, 351.3],
  legend: [657, 37, 7.6], box: [647, 23, 196, 353],
  yName: [24, 213], xName: [334, 433], plName: [619, 195],
  letter: 'c', letterPos: [566, 50]
});
</script>
</body>
</html>
